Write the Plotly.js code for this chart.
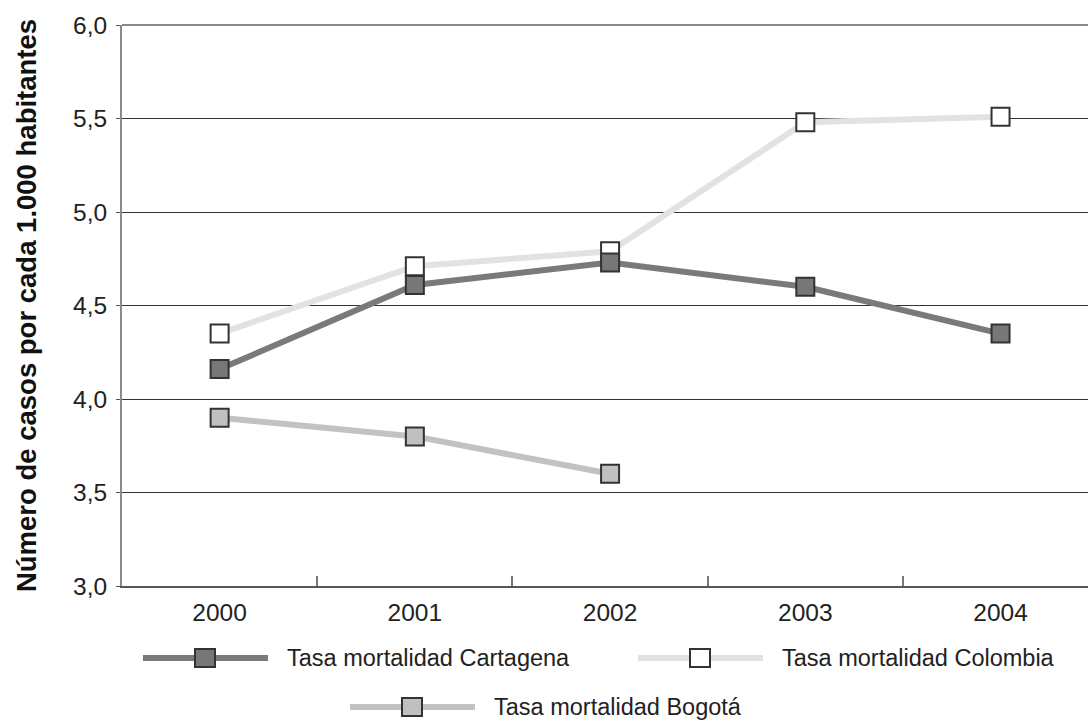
<!DOCTYPE html>
<html>
<head>
<meta charset="utf-8">
<script src="https://cdn.plot.ly/plotly-3.0.1.min.js"></script>
<style>
  html, body { margin: 0; padding: 0; background: #fff; }
  #chart { width: 1088px; height: 723px; }
</style>
</head>
<body>
<div id="chart"></div>
<script>
const years = ['2000', '2001', '2002', '2003', '2004'];
const cartagena = [4.16, 4.61, 4.73, 4.60, 4.35];
const colombia = [4.35, 4.71, 4.79, 5.48, 5.51];
const bogotaYears = ['2000', '2001', '2002'];
const bogota = [3.90, 3.80, 3.60];
const seriesNames = ['Tasa mortalidad Cartagena', 'Tasa mortalidad Colombia', 'Tasa mortalidad Bogotá'];
const yAxisTitle = 'Número de casos por cada 1.000 habitantes';

const FONT = '"Liberation Sans", Arial, sans-serif';
const styles = [
  { line: '#7a7a7a', fill: '#777777' },
  { line: '#e2e2e2', fill: '#ffffff' },
  { line: '#c2c2c2', fill: '#c0c0c0' }
];

function mk(x, y, i) {
  return {
    type: 'scatter', mode: 'lines+markers', x: x, y: y, name: seriesNames[i],
    line: { color: styles[i].line, width: 6 },
    marker: { symbol: 'square', size: 18, color: styles[i].fill, line: { color: '#333333', width: 2 } },
    hoverinfo: 'skip', cliponaxis: false
  };
}

const data = [mk(years, colombia, 1), mk(years, cartagena, 0), mk(bogotaYears, bogota, 2)];

// plot area in pixels
const L = 122, R = 1088, T = 25, B = 586, W = 1088, H = 723;
const px = v => (v - L) / (R - L);
const py = v => (B - v) / (B - T);

const shapes = [
  { type: 'line', xref: 'paper', yref: 'paper', x0: 0, x1: 1, y0: 1, y1: 1, line: { color: '#8a8a8a', width: 2 } }
];
const annotations = [];
const legendItems = [
  { i: 0, cx: 205, cy: 658, x0: 143, x1: 268, tx: 285 },
  { i: 1, cx: 700, cy: 658, x0: 638, x1: 763, tx: 780 },
  { i: 2, cx: 412, cy: 707, x0: 350, x1: 475, tx: 492 }
];
legendItems.forEach(it => {
  shapes.push({ type: 'line', xref: 'paper', yref: 'paper', x0: px(it.x0), x1: px(it.x1), y0: py(it.cy), y1: py(it.cy),
    line: { color: styles[it.i].line, width: 6 } });
  shapes.push({ type: 'rect', xref: 'paper', yref: 'paper', x0: px(it.cx - 10), x1: px(it.cx + 10), y0: py(it.cy - 9), y1: py(it.cy + 9),
    fillcolor: styles[it.i].fill, line: { color: '#333333', width: 2 } });
  annotations.push({ xref: 'paper', yref: 'paper', x: px(it.tx), y: py(it.cy), xanchor: 'left', yanchor: 'middle',
    text: seriesNames[it.i], showarrow: false, font: { family: FONT, size: 23.5, color: '#222' } });
});

const layout = {
  width: W, height: H,
  margin: { l: L, r: W - R, t: T, b: H - B },
  paper_bgcolor: '#fff', plot_bgcolor: '#fff',
  showlegend: false,
  separators: ',.',
  font: { family: FONT, size: 24.5, color: '#222' },
  xaxis: {
    type: 'category', range: [-0.5, 4.448], fixedrange: true,
    showgrid: false, zeroline: false,
    showline: true, linecolor: '#555', linewidth: 2,
    ticks: 'inside', tickson: 'boundaries', ticklen: 10, tickcolor: '#777', tickwidth: 2,
    tickfont: { family: FONT, size: 24.5, color: '#222' },
    ticklabelstandoff: 4
  },
  yaxis: {
    range: [3, 6], dtick: 0.5, tick0: 3, tickformat: '.1f', fixedrange: true,
    showgrid: true, gridcolor: '#333', gridwidth: 1, zeroline: false,
    showline: true, linecolor: '#8a8a8a', linewidth: 2,
    ticks: 'outside', ticklen: 4, tickcolor: '#555', tickwidth: 1,
    tickfont: { family: FONT, size: 24.5, color: '#222' },
    ticklabelstandoff: 4,
    title: { text: yAxisTitle, standoff: 28, font: { family: FONT, size: 27.5, weight: 700, color: '#111' } }
  },
  shapes: shapes,
  annotations: annotations
};

Plotly.newPlot('chart', data, layout, { staticPlot: true, displayModeBar: false });
</script>
</body>
</html>
